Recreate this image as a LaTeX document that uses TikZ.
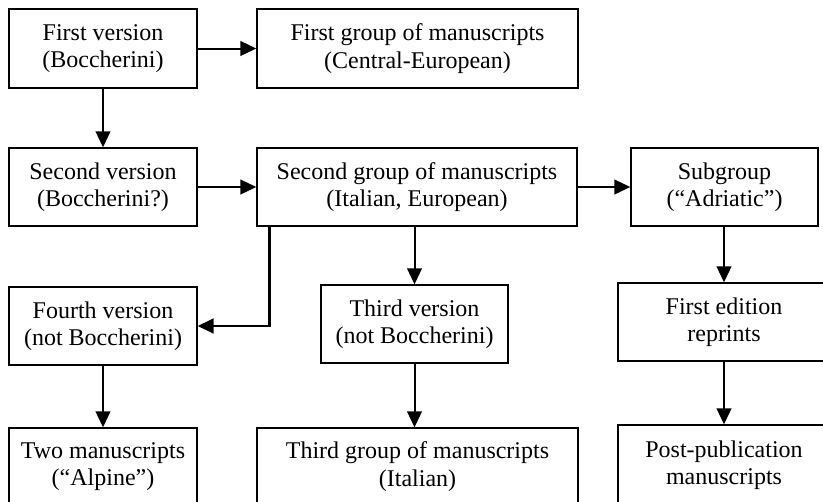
\documentclass[tikz,border=0pt]{standalone}
\usepackage{fontspec}
\setmainfont{Liberation Serif}
\usetikzlibrary{arrows.meta}
\begin{document}
\begin{tikzpicture}[x=0.75pt,y=-0.75pt,
  box/.style={draw=black,line width=1pt,inner sep=0pt,align=center,
    font=\fontsize{18}{20.5}\selectfont},
  arr/.style={line width=1.5pt,-{Triangle[length=12pt,width=11pt]}},
  elbow/.style={line width=2pt,-{Triangle[length=12pt,width=11pt]}}]
\useasboundingbox (0,0) rectangle (823,501);
\clip (0,0) rectangle (823,501);
\fill[white] (0,0) rectangle (823,501);
\node[box,minimum width=141pt,minimum height=59.25pt] (A) at (103,48.5) {First version\\(Boccherini)};
\node[box,minimum width=240.75pt,minimum height=59.25pt] (B) at (417.5,48.5) {First group of manuscripts\\(Central-European)};
\node[box,minimum width=141pt,minimum height=58.5pt] (C) at (103,187) {Second version\\(Boccherini?)};
\node[box,minimum width=240pt,minimum height=58.5pt] (D) at (417,187) {Second group of manuscripts\\(Italian, European)};
\node[box,minimum width=140.25pt,minimum height=58.5pt] (E) at (724.5,187) {Subgroup\\(“Adriatic”)};
\node[box,minimum width=141pt,minimum height=58.5pt] (F) at (103,326) {Fourth version\\(not Boccherini)};
\node[box,minimum width=140.25pt,minimum height=58.5pt] (G) at (414.5,324) {Third version\\(not Boccherini)};
\node[box,minimum width=159pt,minimum height=58.5pt] (H) at (724,322) {First edition\\reprints};
\node[box,minimum width=141pt,minimum height=57.75pt] (I) at (103,466.5) {Two manuscripts\\(“Alpine”)};
\node[box,minimum width=240.75pt,minimum height=57.75pt] (J) at (417.5,466.5) {Third group of manuscripts\\(Italian)};
\node[box,minimum width=159pt,minimum height=60pt] (K) at (724,465) {Post-publication\\manuscripts};
\draw[arr] (A) -- (B);
\draw[arr] (A) -- (C);
\draw[arr] (C) -- (D);
\draw[arr] (D) -- (E);
\draw[arr] (G.north |- D.south) -- (G.north);
\draw[arr] (H.north |- E.south) -- (H.north);
\draw[elbow] ([xshift=9.75pt]D.south west) |- (F.east);
\draw[arr] (F) -- (I);
\draw[arr] (G.south) -- (G.south |- J.north);
\draw[arr] (H) -- (K);
\end{tikzpicture}
\end{document}
